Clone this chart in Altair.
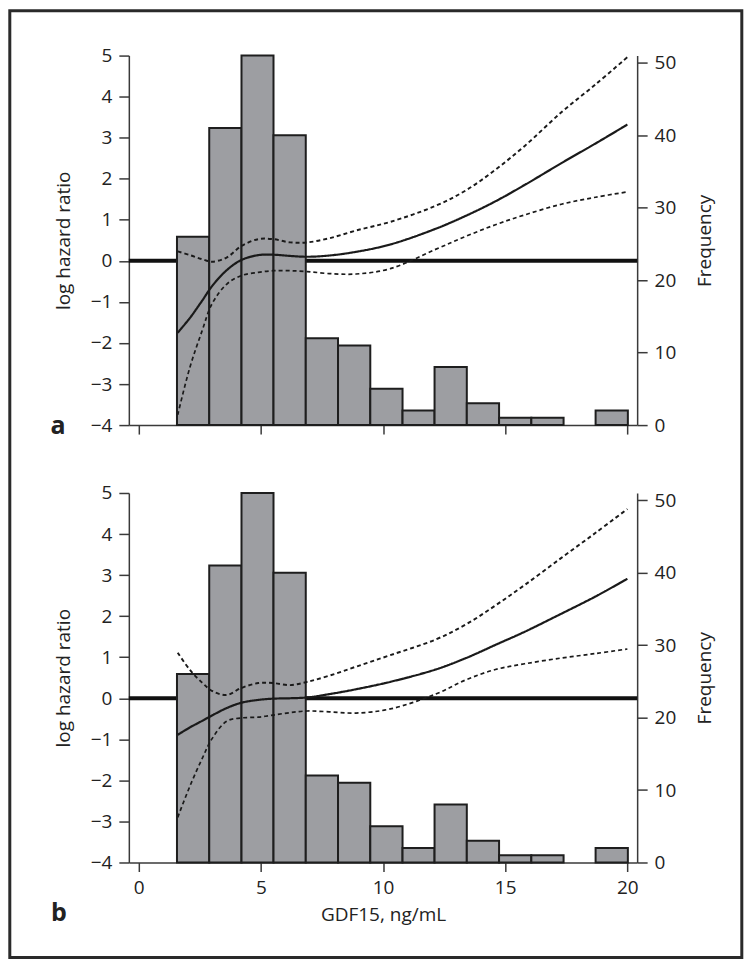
import altair as alt
import pandas as pd

# ---------------- data ----------------
bin_edges = [1.57, 2.89, 4.21, 5.52, 6.84, 8.16, 9.48, 10.80, 12.11, 13.43,
             14.75, 16.07, 17.39, 18.70, 20.02]
counts = [26, 41, 51, 40, 12, 11, 5, 2, 8, 3, 1, 1, 0, 2]

x_grid = [1.6, 2.1, 2.6, 3.0, 3.6, 4.2, 4.9, 5.5, 6.2, 6.9, 7.8, 8.9, 10.3,
          12.15, 13.4, 14.6, 15.8, 17.3, 18.7, 20.0]

a_fit = [-1.75, -1.39, -0.97, -0.62, -0.23, 0.02, 0.14, 0.15, 0.12, 0.10,
         0.13, 0.22, 0.40, 0.78, 1.10, 1.45, 1.85, 2.38, 2.86, 3.32]
a_upper = [0.23, 0.14, 0.04, -0.02, 0.08, 0.36, 0.53, 0.53, 0.45, 0.45,
           0.55, 0.74, 0.95, 1.34, 1.72, 2.22, 2.80, 3.62, 4.30, 4.96]
a_lower = [-3.75, -2.59, -1.70, -1.05, -0.57, -0.36, -0.28, -0.24, -0.24, -0.26,
           -0.31, -0.32, -0.19, 0.28, 0.60, 0.88, 1.12, 1.38, 1.55, 1.68]

b_fit = [-0.89, -0.71, -0.55, -0.42, -0.24, -0.11, -0.04, -0.01, 0.00, 0.02,
         0.10, 0.22, 0.40, 0.70, 0.98, 1.30, 1.62, 2.06, 2.48, 2.91]
b_upper = [1.11, 0.69, 0.38, 0.18, 0.08, 0.25, 0.37, 0.37, 0.32, 0.40,
           0.55, 0.77, 1.05, 1.43, 1.80, 2.26, 2.76, 3.42, 4.03, 4.61]
b_lower = [-2.90, -2.14, -1.47, -0.99, -0.56, -0.48, -0.46, -0.41, -0.35, -0.31,
           -0.33, -0.36, -0.26, 0.10, 0.45, 0.70, 0.84, 0.98, 1.09, 1.20]

x_ticks = [0, 5, 10, 15, 20]
lhr_ticks = [-4, -3, -2, -1, 0, 1, 2, 3, 4, 5]
freq_ticks = [0, 10, 20, 30, 40, 50]
panel_labels = ["a", "b"]

# ---------------- tables ----------------
hist_df = pd.DataFrame({"start": bin_edges[:-1], "end": bin_edges[1:], "count": counts})
zero_df = pd.DataFrame({"lhr": [0]})


def curve_table(fit, upper, lower):
    rows = []
    for name, vals in (("fit", fit), ("upper", upper), ("lower", lower)):
        for x, v in zip(x_grid, vals):
            rows.append({"x": x, "v": v, "series": name})
    return pd.DataFrame(rows)


W, H = 509, 370
FONT = "Open Sans"
TXT = "#222222"
AX = "#3a3a3a"

x_scale = alt.Scale(domain=[-0.4, 20.4], nice=False, zero=False)
lhr_scale = alt.Scale(domain=[-4, 5], nice=False, zero=False)
freq_scale = alt.Scale(domain=[0, 51], nice=False)


def x_axis(show_labels):
    kw = dict(values=x_ticks, grid=False, tickSize=9, labelPadding=7,
              domainColor=AX, tickColor=AX, domainWidth=1.5, tickWidth=1.5,
              labelFont=FONT, labelFontSize=19, labelColor=TXT,
              titleFont=FONT, titleFontSize=19, titleFontWeight="normal",
              titleColor=TXT, titlePadding=8)
    if show_labels:
        return alt.Axis(title="GDF15, ng/mL", **kw)
    return alt.Axis(title=None, labels=False, **kw)


left_axis = alt.Axis(values=lhr_ticks, grid=False, orient="left", tickSize=10,
                     labelPadding=7, domainColor=AX, tickColor=AX,
                     domainWidth=1.5, tickWidth=1.5, labelFont=FONT,
                     labelFontSize=19, labelColor=TXT, title="log hazard ratio",
                     titleFont=FONT, titleFontSize=19, titleFontWeight="normal",
                     titleColor=TXT, titlePadding=17)
right_axis = alt.Axis(values=freq_ticks, grid=False, orient="right", tickSize=10,
                      labelPadding=7, domainColor=AX, tickColor=AX,
                      domainWidth=1.5, tickWidth=1.5, labelFont=FONT,
                      labelFontSize=19, labelColor=TXT, title="Frequency",
                      titleFont=FONT, titleFontSize=19, titleFontWeight="normal",
                      titleColor=TXT, titlePadding=39, titleAngle=270)


def panel(label, fit, upper, lower, show_x_labels, label_xy, frame=None):
    zero = alt.Chart(zero_df).mark_rule(strokeWidth=4, color="#111111").encode(
        x=alt.value(0), x2=alt.value(W),
        y=alt.Y("lhr:Q", scale=lhr_scale, axis=None))
    bars = alt.Chart(hist_df).transform_filter("datum.count > 0").mark_rect(
        fill="#9d9ea2", stroke="#1e1e1e", strokeWidth=2).encode(
        x=alt.X("start:Q", scale=x_scale, axis=x_axis(show_x_labels)),
        x2="end:Q",
        y=alt.Y("count:Q", scale=freq_scale, axis=right_axis),
        y2=alt.datum(0))
    lines = alt.Chart(curve_table(fit, upper, lower)).mark_line(
        color="#1a1a1a", interpolate="catmull-rom").encode(
        x=alt.X("x:Q", scale=x_scale, axis=x_axis(show_x_labels)),
        y=alt.Y("v:Q", scale=lhr_scale, axis=left_axis),
        detail="series:N",
        strokeDash=alt.StrokeDash("series:N", legend=None,
                                  scale=alt.Scale(domain=["fit", "upper", "lower"],
                                                  range=[[1, 0], [4, 3], [4, 3]])),
        strokeWidth=alt.StrokeWidth("series:N", legend=None,
                                    scale=alt.Scale(domain=["fit", "upper", "lower"],
                                                    range=[2.2, 1.7, 1.7])))
    text = alt.Chart(pd.DataFrame({"label": [label]})).mark_text(
        font=FONT, fontSize=25, fontWeight="bold", color=TXT,
        align="center", baseline="alphabetic").encode(
        x=alt.value(label_xy[0]), y=alt.value(label_xy[1]), text="label:N")
    layers = [zero, bars, lines, text]
    if frame is not None:
        fr = alt.Chart(pd.DataFrame({"k": [0]})).mark_rect(
            fill="transparent", stroke="#2a2a2a", strokeWidth=3).encode(
            x=alt.value(frame[0]), x2=alt.value(frame[1]),
            y=alt.value(frame[2]), y2=alt.value(frame[3]))
        layers.append(fr)
    return alt.layer(*layers).resolve_scale(y="independent").properties(width=W, height=H)


# panel origins on page: a (128.7, 54.3), b (128.7, 492.3); frame outer edge at page 8
frame_b = [9.5 - 128.7, 742.5 - 128.7, 9.5 - 492.3, 957.5 - 492.3]

pa = panel(panel_labels[0], a_fit, a_upper, a_lower, False, (-71, 379))
pb = panel(panel_labels[1], b_fit, b_upper, b_lower, True, (-70, 429), frame=frame_b)

chart = alt.vconcat(pa, pb, spacing=68, bounds="flush").properties(
    padding=0, background="white").configure_view(strokeWidth=0)

chart.save("out.html", embed_options={"renderer": "svg", "actions": False})
